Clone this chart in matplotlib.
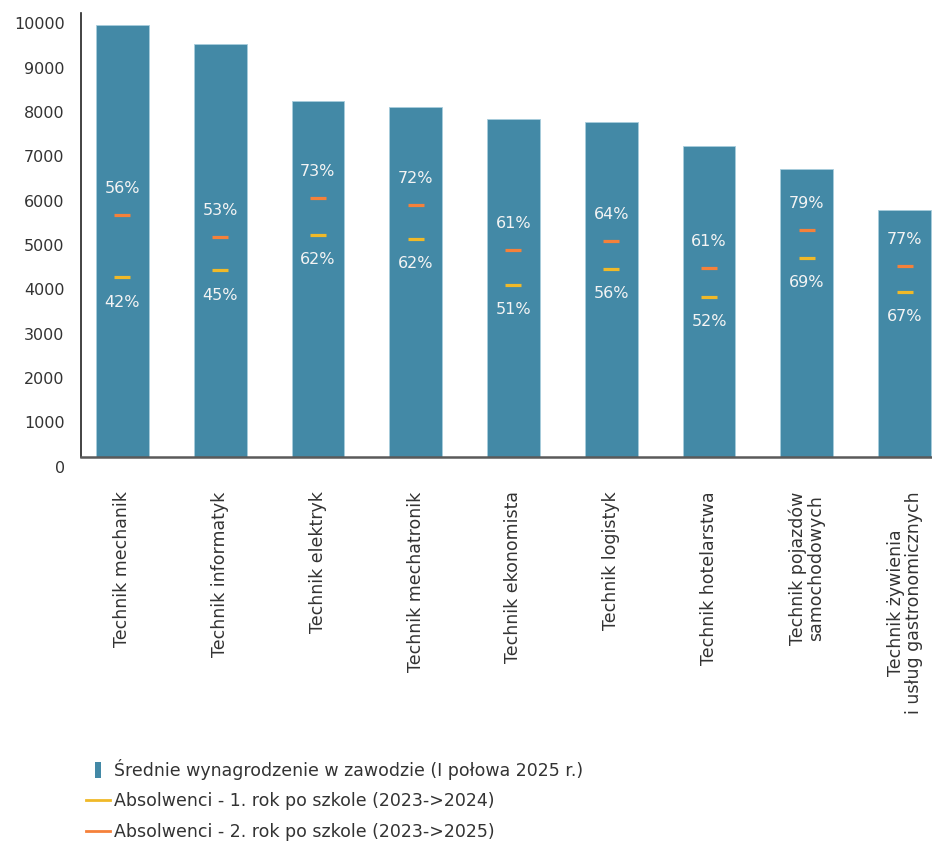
import matplotlib
matplotlib.use("Agg")
import matplotlib.pyplot as plt
import matplotlib.transforms as mtrans
from matplotlib.lines import Line2D
import numpy as np

plt.rcParams['font.family'] = ['DejaVu Sans']

categories = ["Technik mechanik", "Technik informatyk", "Technik elektryk",
              "Technik mechatronik", "Technik ekonomista", "Technik logistyk",
              "Technik hotelarstwa", "Technik pojazdów\nsamochodowych",
              "Technik żywienia\ni usług gastronomicznych"]
salary = [9736, 9307, 8029, 7893, 7623, 7555, 7000, 6488, 5571]
year1 = [4046, 4210, 5007, 4910, 3879, 4240, 3608, 4488, 3721]
year2 = [5451, 4948, 5841, 5677, 4668, 4871, 4262, 5119, 4308]
year1_pct = ["42%", "45%", "62%", "62%", "51%", "56%", "52%", "69%", "67%"]
year2_pct = ["56%", "53%", "73%", "72%", "61%", "64%", "61%", "79%", "77%"]

BAR = "#4389a6"
YELLOW = "#f0b928"
ORANGE = "#f5813a"
TXT = "#333333"

fig = plt.figure(figsize=(9.32, 8.43), dpi=100)
ax = fig.add_axes([81.3 / 932, 1 - 456.7 / 843, 1 - 81.3 / 932, (456.7 - 13.3) / 843])

x = np.arange(len(categories))
ax.bar(x, salary, width=0.54, color=BAR, edgecolor="#a8cddc", linewidth=0.6, zorder=2)
ax.plot(x, year1, linestyle="none", marker="_", markersize=11.5, mew=2.3,
        color=YELLOW, zorder=3)
ax.plot(x, year2, linestyle="none", marker="_", markersize=11.5, mew=2.3,
        color=ORANGE, zorder=3)

for xi, v, t in zip(x, year2, year2_pct):
    ax.annotate(t, (xi, v), xytext=(0, 19), textcoords="offset points",
                ha="center", va="center", color="#f4f4f4", fontsize=11.5, zorder=4)
for xi, v, t in zip(x, year1, year1_pct):
    ax.annotate(t, (xi, v), xytext=(0, -18), textcoords="offset points",
                ha="center", va="center", color="#f4f4f4", fontsize=11.5, zorder=4)

ax.set_xlim(-0.42, 8.28)
ax.set_ylim(0, 10000)
ax.set_yticks(range(0, 10001, 1000))
ax.tick_params(axis="y", length=0, pad=12, labelsize=11.5, labelcolor=TXT)
ax.tick_params(axis="x", length=0, pad=25, labelsize=12.5, labelcolor=TXT)
ax.set_xticks(x)
ax.set_xticklabels(categories, rotation=90, ha="center", va="top",
                   multialignment="center", linespacing=1.0)

# tick labels sit a bit below their values in the original
shift = mtrans.ScaledTranslation(0, -10 / 100, fig.dpi_scale_trans)
for lab in ax.get_yticklabels():
    lab.set_transform(lab.get_transform() + shift)

for s in ["top", "right"]:
    ax.spines[s].set_visible(False)
ax.spines["left"].set_color("#222222")
ax.spines["left"].set_linewidth(1.2)
ax.spines["bottom"].set_color("#5a5a5a")
ax.spines["bottom"].set_linewidth(1.8)

rect = [(-0.35, -1), (0.35, -1), (0.35, 1), (-0.35, 1), (-0.35, -1)]
handles = [
    Line2D([], [], linestyle="none", marker=rect, markersize=11, color=BAR, mew=0),
    Line2D([], [], color=YELLOW, lw=2),
    Line2D([], [], color=ORANGE, lw=2),
]
labels = ["Średnie wynagrodzenie w zawodzie (I połowa 2025 r.)",
          "Absolwenci - 1. rok po szkole (2023->2024)",
          "Absolwenci - 2. rok po szkole (2023->2025)"]
fig.legend(handles, labels, loc="upper left", bbox_to_anchor=(86 / 932, 1 - 759 / 843),
           frameon=False, fontsize=12.5, handlelength=1.4, handletextpad=0.2,
           labelspacing=0.72, labelcolor=TXT, borderaxespad=0, borderpad=0)

fig.savefig("out.png", dpi=100)
